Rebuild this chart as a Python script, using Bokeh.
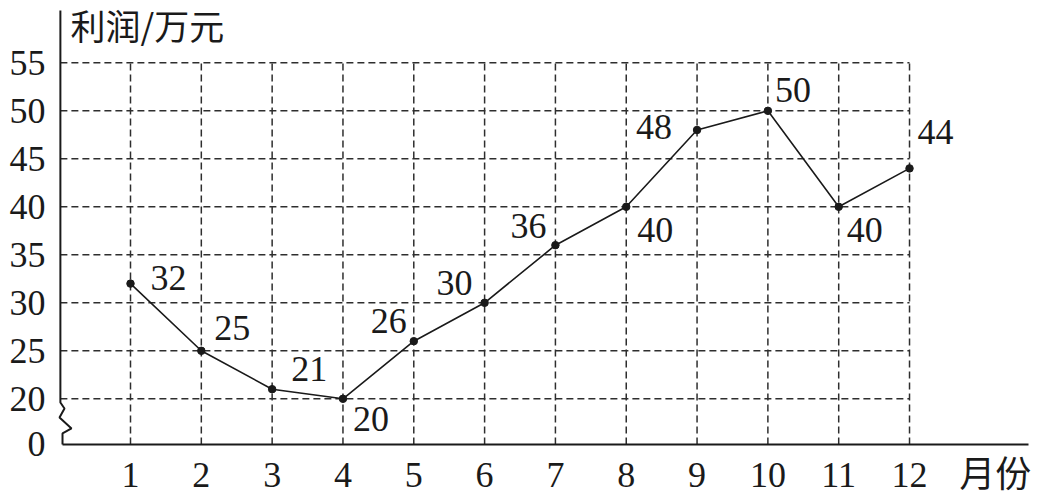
from bokeh.plotting import figure
from bokeh.models import Range1d, FixedTicker, CustomJSTickFormatter, Label, ColumnDataSource
from bokeh.embed import file_html
from bokeh.resources import INLINE

# ---- data ----
months = [1, 2, 3, 4, 5, 6, 7, 8, 9, 10, 11, 12]
profit = [32, 25, 21, 20, 26, 30, 36, 40, 48, 50, 40, 44]
profit_labels = ["32", "25", "21", "20", "26", "30", "36", "40", "48", "50", "40", "44"]
y_ticks = [20, 25, 30, 35, 40, 45, 50, 55]
x_ticks = [1, 2, 3, 4, 5, 6, 7, 8, 9, 10, 11, 12]
y_title = "利润/万元"
x_title = "月份"

# ---- layout constants (style / position, not data) ----
ZERO_POS = 15.24          # where the "0" of the broken axis sits
AXIS_X = 0.01
X_TITLE_POS = 13.21       # x-axis title sits in the tick row, right of 12
label_dx = [38, 31, 37, 28, -25, -30, -27, 29, -43, 25, 26, 26]
label_dy = [-6, -23, -20, 20, -20, -20, -19, 23, -3, -21, 23, -36]

CJK_FONT = "'Noto Sans CJK SC'"
MIX_FONT = "'Liberation Serif', 'Times New Roman', 'Noto Sans CJK SC', serif"
INK = "#1a1a1a"

p = figure(
    frame_width=976, frame_height=446,
    min_border_left=52, min_border_right=8, min_border_top=0, min_border_bottom=47,
    x_range=Range1d(-0.1014, 13.68), y_range=Range1d(15.03, 61.49),
    output_backend="svg", toolbar_location=None,
    background_fill_color="white", border_fill_color="white",
)
p.outline_line_color = None
p.xgrid.visible = False
p.ygrid.visible = False

# axes: labels only, lines drawn by hand (broken y axis)
for ax in (p.xaxis[0], p.yaxis[0]):
    ax.axis_line_color = None
    ax.major_tick_line_color = None
    ax.minor_tick_line_color = None
    ax.major_tick_out = 0
    ax.major_tick_in = 0
    ax.major_label_text_font = MIX_FONT
    ax.major_label_text_font_size = "36px"
    ax.major_label_text_color = INK

p.xaxis.ticker = FixedTicker(ticks=x_ticks + [X_TITLE_POS])
p.xaxis.formatter = CustomJSTickFormatter(
    args=dict(title=x_title),
    code="return tick > 12.5 ? title : tick.toFixed(0);")
p.xaxis.major_label_standoff = 8
p.yaxis.ticker = FixedTicker(ticks=[ZERO_POS] + y_ticks)
p.yaxis.formatter = CustomJSTickFormatter(code="return tick < 19 ? '0' : tick.toFixed(0);")
p.yaxis.major_label_standoff = 7

# dashed grid, bounded to the data area
gkw = dict(line_color="#2e2e2e", line_width=1.5, line_dash="7 4")
p.segment(x0=[AXIS_X] * len(y_ticks), y0=y_ticks, x1=[max(x_ticks)] * len(y_ticks), y1=y_ticks, **gkw)
p.segment(x0=x_ticks, y0=[ZERO_POS] * len(x_ticks), x1=x_ticks, y1=[max(y_ticks)] * len(x_ticks), **gkw)

# axis lines (y axis with a zig-zag break)
p.line(x=[AXIS_X, AXIS_X, 0.068, -0.0025, 0.167, 0.040, 0.040],
       y=[60.45, 19.61, 18.99, 18.05, 16.91, 16.39, ZERO_POS],
       line_color=INK, line_width=2)
p.line(x=[0.040, 13.71], y=[ZERO_POS, ZERO_POS], line_color=INK, line_width=2)

# series
src = ColumnDataSource(dict(x=months, y=profit, t=profit_labels, dx=label_dx, dy=label_dy))
p.line("x", "y", source=src, line_color=INK, line_width=1.6)
p.scatter("x", "y", source=src, size=7.5, color=INK)
p.text("x", "y", text="t", x_offset="dx", y_offset="dy", source=src,
       text_font={"value": MIX_FONT}, text_font_size="36px", text_color=INK,
       text_align="center", text_baseline="middle")

# y-axis title at the top
p.add_layout(Label(x=0.153, y=59.0, text=y_title, text_font=CJK_FONT, text_font_size="35px",
                   text_color=INK, text_align="left", text_baseline="middle"))

open("out.html", "w").write(file_html(p, INLINE))
